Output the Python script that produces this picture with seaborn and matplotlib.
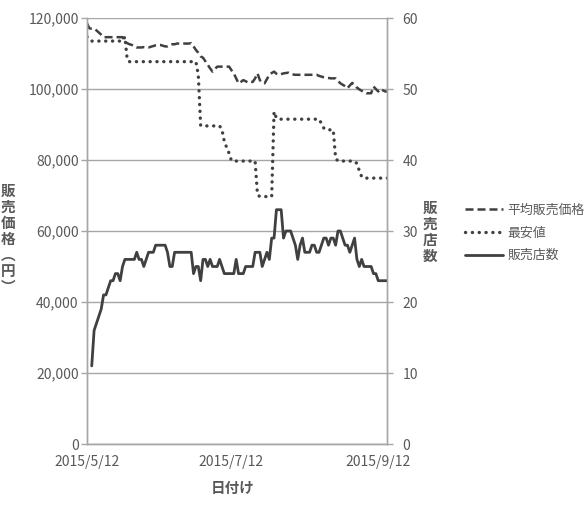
import numpy as np
import pandas as pd
import matplotlib
matplotlib.use("Agg")
import matplotlib.pyplot as plt
import matplotlib.ticker as mticker
import seaborn as sns

# ---------------- data ----------------
start_date = "2015-05-12"

avg_price = [
    118500, 117100, 117000, 117000, 116500, 115900, 115300, 114600, 114600, 114600,
    114600, 114600, 114600, 114600, 114600, 114600, 113300, 112900, 112600, 112400,
    112000, 111700, 111700, 111700, 111800, 111700, 111700, 111900, 112100, 112300,
    112400, 112400, 112200, 112000, 112000, 112300, 112600, 112600, 112800, 112800,
    112800, 112800, 112800, 112800, 112900, 112000, 111000, 110200, 109200, 108800,
    107800, 106800, 105800, 104900, 105600, 106300, 106300, 106300, 106300, 106300,
    106300, 105300, 104400, 103000, 101600, 102000, 102500, 102200, 101800, 102000,
    102000, 103000, 104400, 102500, 101800, 101600, 102800, 104000, 104500, 104900,
    104300, 104000, 104200, 104400, 104500, 104600, 104300, 104100, 104000, 104000,
    104000, 104000, 104000, 104000, 104000, 104000, 104000, 104000, 103700, 103500,
    103300, 103200, 103100, 103000, 103000, 103000, 102300, 101600, 101200, 100800,
    100200, 101000, 101700, 101200, 100400, 99900, 99500, 99100, 98800, 98800,
    98800, 100700, 100000, 99300, 100000, 99600, 99300, 99300,
]

min_price = [
    114700, 113800, 113500, 113500, 113500, 113500, 113500, 113500, 113500, 113500,
    113500, 113500, 113500, 113500, 113500, 113500, 114700, 108200, 107700, 107700,
    107700, 107700, 107700, 107700, 107700, 107700, 107700, 107700, 107700, 107700,
    107700, 107700, 107700, 107700, 107700, 107700, 107700, 107700, 107700, 107700,
    107700, 107700, 107700, 107700, 107700, 107700, 107700, 104000, 89700, 89600,
    89600, 89600, 89600, 89600, 89600, 89600, 89600, 88500, 85200, 83500,
    81900, 79800, 79700, 79700, 79700, 79700, 79700, 79700, 79700, 79700,
    79700, 79700, 70200, 69700, 69700, 69700, 69700, 69700, 69700, 93600,
    91800, 91500, 91500, 91500, 91500, 91500, 91500, 91500, 91500, 91500,
    91500, 91500, 91500, 91500, 91500, 91500, 91500, 91500, 91500, 90300,
    89000, 88500, 88500, 88500, 88500, 80500, 79700, 79700, 79700, 79700,
    79700, 79700, 79700, 79700, 79000, 77000, 75300, 74900, 74900, 74900,
    74900, 74900, 74900, 74900, 74900, 74900, 74900, 74900,
]

store_count = [
    None, None, 11, 16, 17, 18, 19, 21, 21, 22,
    23, 23, 24, 24, 23, 25, 26, 26, 26, 26,
    26, 27, 26, 26, 25, 26, 27, 27, 27, 28,
    28, 28, 28, 28, 27, 25, 25, 27, 27, 27,
    27, 27, 27, 27, 27, 24, 25, 25, 23, 26,
    26, 25, 26, 25, 25, 25, 26, 25, 24, 24,
    24, 24, 24, 26, 24, 24, 24, 25, 25, 25,
    25, 27, 27, 27, 25, 26, 27, 26, 29, 29,
    33, 33, 33, 29, 30, 30, 30, 29, 28, 26,
    28, 29, 27, 27, 27, 28, 28, 27, 27, 28,
    29, 29, 28, 29, 29, 28, 30, 30, 29, 28,
    28, 27, 28, 29, 26, 25, 26, 25, 25, 25,
    25, 24, 24, 23, 23, 23, 23, 23,
]

series_names = ["平均販売価格", "最安値", "販売店数"]
x_tick_dates = ["2015-05-12", "2015-07-12", "2015-09-12"]
x_tick_labels = ["2015/5/12", "2015/7/12", "2015/9/12"]
x_label = "日付け"
y_label_left = "販\n売\n価\n格\n︵\n円\n︶"
y_label_right = "販\n売\n店\n数"

# ---------------- frame ----------------
dates = pd.date_range(start_date, periods=len(avg_price), freq="D")
df = pd.DataFrame({
    "date": dates,
    "avg": avg_price,
    "min": min_price,
    "count": pd.to_numeric(pd.Series(store_count), errors="coerce"),
})

sns.set_theme(style="white")
plt.rcParams["font.family"] = ["Noto Sans CJK JP", "DejaVu Sans"]

TXT = "#595959"
LINE = "#404040"
GRID = "#a6a6a6"

fig = plt.figure(figsize=(5.88, 5.11), dpi=100)
ax = fig.add_axes([87 / 588, 67 / 511, 300 / 588, 426 / 511])
ax2 = ax.twinx()

sns.lineplot(data=df, x="date", y="avg", ax=ax, color=LINE, lw=1.8,
             linestyle=(0, (3.2, 1.6)), label=series_names[0], legend=False)
sns.lineplot(data=df, x="date", y="min", ax=ax, color=LINE, lw=2.4,
             linestyle=(0, (0.05, 2.0)), dash_capstyle="round",
             label=series_names[1], legend=False)
sns.lineplot(data=df, x="date", y="count", ax=ax2, color=LINE, lw=2.0,
             label=series_names[2], legend=False)

t0 = pd.Timestamp(start_date)
ax.set_xlim(t0, t0 + pd.Timedelta(days=126.7))
ax.set_ylim(0, 120000)
ax2.set_ylim(0, 60)
ax.yaxis.set_major_locator(mticker.MultipleLocator(20000))
ax.yaxis.set_major_formatter(mticker.FuncFormatter(lambda v, p: f"{int(v):,}"))
ax2.yaxis.set_major_locator(mticker.MultipleLocator(10))

ax.set_xticks([pd.Timestamp(d) for d in x_tick_dates])
ax.set_xticklabels(x_tick_labels)

ax.grid(axis="y", color=GRID, lw=1)
ax.grid(axis="x", visible=False)
ax2.grid(False)

for a in (ax, ax2):
    a.spines["top"].set_visible(False)
    for side in ("left", "right", "bottom"):
        a.spines[side].set_color(GRID)
        a.spines[side].set_linewidth(1)
    a.tick_params(colors=TXT, labelsize=10, length=4, width=1, color=GRID)
    a.set_xlabel("")
    a.set_ylabel("")

ax.tick_params(axis="y", pad=2)
ax2.tick_params(axis="y", pad=7)
ax.tick_params(axis="x", pad=4)

fig.text(233 / 588, 1 - 488 / 511, x_label, ha="center", va="center",
         fontsize=10.5, fontweight="bold", color=TXT)
fig.text(8 / 588, 1 - 239 / 511, y_label_left, ha="center", va="center",
         fontsize=10.5, fontweight="bold", color=TXT, linespacing=1.0)
fig.text(430 / 588, 1 - 232 / 511, y_label_right, ha="center", va="center",
         fontsize=10.5, fontweight="bold", color=TXT, linespacing=1.0)

handles = ax.get_lines()[:2] + ax2.get_lines()[:1]
leg = fig.legend(handles, series_names, loc="center left",
                 bbox_to_anchor=(460 / 588, 1 - 233 / 511), frameon=False,
                 fontsize=9.3, handlelength=2.9, handletextpad=0.35,
                 labelspacing=0.75, borderaxespad=0)
for t in leg.get_texts():
    t.set_color(TXT)

fig.savefig("out.png", dpi=100)
